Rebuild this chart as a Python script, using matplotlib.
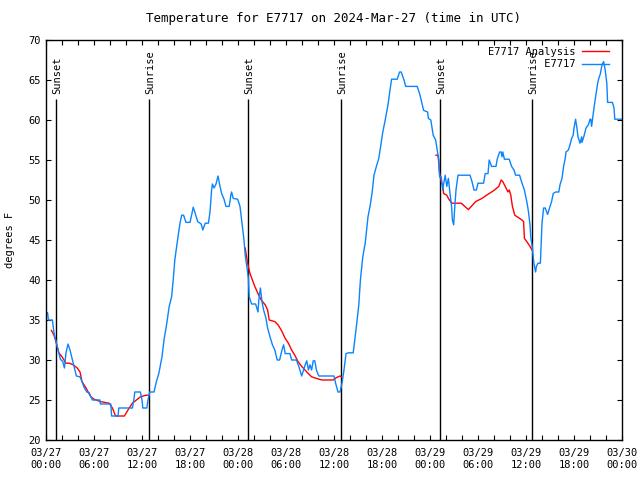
import matplotlib
matplotlib.use('Agg')
import matplotlib.pyplot as plt
from matplotlib.ticker import MultipleLocator

plt.rcParams['font.family'] = 'DejaVu Sans Mono'
plt.rcParams['font.size'] = 7.5

title = 'Temperature for E7717 on 2024-Mar-27 (time in UTC)'
label_y = 'degrees F'
label_obs = 'E7717'
label_ana = 'E7717 Analysis'

# hours since 03/27 00:00 UTC
tick_hours = [0, 6, 12, 18, 24, 30, 36, 42, 48, 54, 60, 66, 72]
tick_labels = ['03/27\n00:00', '03/27\n06:00', '03/27\n12:00', '03/27\n18:00',
               '03/28\n00:00', '03/28\n06:00', '03/28\n12:00', '03/28\n18:00',
               '03/29\n00:00', '03/29\n06:00', '03/29\n12:00', '03/29\n18:00',
               '03/30\n00:00']

sun_hours = [1.28, 12.88, 25.3, 36.9, 49.28, 60.8]
sun_labels = ['Sunset', 'Sunrise', 'Sunset', 'Sunrise', 'Sunset', 'Sunrise']

obs_h = [0.0, 0.2, 0.3, 0.8, 1.0, 1.3, 1.6, 1.8, 2.1, 2.3, 2.5, 2.75, 3.0, 3.3, 3.5, 3.8,
         4.25, 4.5, 4.75, 5.1, 5.4, 5.8, 6.75, 6.8, 8.1, 8.2, 9.0, 9.1, 10.8, 11.0, 11.1,
         11.8, 12.0, 12.1, 12.6, 12.75, 12.96, 13.5, 13.8, 14.1, 14.5, 14.75, 15.1, 15.4,
         15.7, 15.9, 16.1, 16.3, 16.5, 16.75, 16.96, 17.2, 17.5, 18.0, 18.2, 18.4, 18.6,
         18.96, 19.4, 19.6, 19.9, 20.3, 20.5, 20.7, 20.8, 21.0, 21.25, 21.5, 21.75, 21.96,
         22.25, 22.5, 22.9, 23.1, 23.2, 23.4, 23.96, 24.25, 24.5, 24.75, 24.9, 25.1, 25.3,
         25.4, 25.7, 26.2, 26.5, 26.6, 26.8, 27.0, 27.2, 27.5, 27.7, 28.0, 28.3, 28.6,
         28.9, 29.2, 29.5, 29.7, 29.9, 30.5, 30.7, 31.3, 31.6, 31.96, 32.2, 32.4, 32.6,
         32.8, 33.0, 33.2, 33.4, 33.6, 33.8, 34.1, 36.0, 36.2, 36.5, 36.75, 37.0, 37.25,
         37.5, 37.8, 38.4, 38.6, 38.8, 39.1, 39.3, 39.6, 39.9, 40.25, 40.5, 40.75, 41.0,
         41.3, 41.6, 41.8, 42.1, 42.4, 42.75, 43.0, 43.2, 43.9, 44.2, 44.4, 44.75, 44.96,
         46.4, 46.7, 46.9, 47.2, 47.7, 47.8, 48.1, 48.4, 48.7, 48.9, 49.1, 49.2, 49.4,
         49.6, 49.7, 49.9, 50.1, 50.3, 50.5, 50.7, 50.8, 50.96, 51.1, 51.25, 51.5, 53.0,
         53.25, 53.5, 53.8, 54.0, 54.7, 54.9, 55.25, 55.4, 55.7, 56.25, 56.4, 56.7, 56.9,
         57.0, 57.1, 57.3, 57.9, 58.2, 58.5, 58.7, 59.2, 59.5, 59.8, 60.1, 60.3, 60.5,
         60.6, 60.8, 60.9, 61.0, 61.2, 61.3, 61.5, 61.8, 61.9, 62.0, 62.2, 62.4, 62.7,
         63.0, 63.2, 63.4, 63.7, 64.1, 64.25, 64.5, 64.7, 64.9, 65.0, 65.3, 65.5, 65.7,
         65.9, 66.0, 66.2, 66.4, 66.5, 66.75, 66.96, 67.0, 67.25, 67.5, 67.8, 68.0, 68.1,
         68.2, 68.5, 68.7, 68.96, 69.1, 69.3, 69.5, 69.7, 69.9, 70.1, 70.2, 70.8, 71.0,
         71.1, 71.9]
obs_t = [36.0, 35.9, 35.0, 35.0, 33.4, 32.1, 30.9, 30.1, 29.8, 29.0, 30.9, 32.0, 31.25,
         30.0, 29.2, 28.0, 27.9, 27.3, 26.6, 26.0, 25.9, 25.0, 25.0, 24.5, 24.5, 23.0, 23.0,
         24.0, 24.0, 25.2, 26.0, 26.0, 25.0, 24.0, 24.0, 25.0, 26.0, 26.0, 27.3, 28.3, 30.4,
         32.5, 34.6, 36.7, 37.9, 40.0, 42.5, 44.0, 45.4, 47.1, 48.1, 48.1, 47.2, 47.2, 48.1,
         49.1, 48.5, 47.3, 47.0, 46.25, 47.1, 47.1, 48.5, 51.25, 52.0, 51.5, 52.0, 53.0,
         51.7, 50.8, 50.1, 49.2, 49.2, 50.6, 51.0, 50.2, 50.1, 49.2, 47.1, 45.0, 43.1, 41.7,
         40.2, 37.9, 37.0, 37.0, 36.0, 37.5, 39.0, 37.3, 36.25, 35.2, 34.0, 32.9, 31.9,
         31.25, 30.0, 30.0, 31.25, 31.9, 30.8, 30.8, 30.0, 30.0, 29.2, 28.0, 28.75, 29.4,
         29.9, 28.75, 29.4, 28.75, 29.9, 29.9, 28.75, 28.0, 28.0, 27.1, 26.0, 26.0, 27.1,
         28.75, 30.8, 30.9, 30.9, 32.5, 34.2, 36.9, 40.0, 42.9, 44.6, 47.9, 49.2, 50.8, 53.1,
         54.2, 55.2, 56.5, 58.5, 60.0, 61.9, 63.75, 65.1, 65.1, 66.0, 66.0, 65.0, 64.2, 64.2,
         63.3, 62.5, 61.2, 61.0, 60.2, 60.0, 58.1, 57.5, 56.25, 55.0, 52.9, 52.9, 51.25,
         52.0, 53.1, 51.7, 52.7, 50.8, 49.2, 47.5, 46.9, 49.2, 51.25, 53.1, 53.1, 52.3, 51.25,
         51.25, 52.1, 52.1, 53.3, 53.3, 55.0, 54.2, 54.2, 55.1, 56.0, 56.0, 55.4, 56.0, 55.1,
         55.1, 54.2, 53.75, 53.1, 53.1, 52.1, 51.25, 49.8, 48.6, 46.9, 45.3, 44.0, 42.9,
         42.0, 41.0, 41.7, 42.1, 42.1, 44.6, 47.1, 49.0, 49.0, 48.2, 49.2, 49.8, 50.8, 51.0,
         51.0, 51.9, 52.7, 54.2, 55.2, 56.0, 56.25, 56.9, 57.7, 58.1, 59.0, 60.1, 58.75,
         57.9, 57.1, 57.9, 57.2, 58.0, 59.0, 59.4, 60.1, 60.1, 59.2, 61.5, 62.9, 64.6, 65.2,
         65.8, 66.9, 67.3, 66.25, 64.6, 62.2, 62.2, 61.5, 60.1, 60.1]

# analysis, three night-time pieces
ana1_h = [0.67, 1.0, 1.3, 1.6, 2.0, 2.5, 2.9, 3.4, 3.9, 4.25, 4.5, 5.0, 5.6, 6.0, 6.8,
          7.9, 8.3, 8.7, 9.8, 10.4, 10.8, 11.8, 12.5, 12.9]
ana1_t = [33.7, 33.1, 32.1, 30.9, 30.4, 29.6, 29.6, 29.4, 29.0, 28.5, 27.3, 26.5, 25.4,
          25.1, 24.8, 24.6, 24.0, 23.0, 23.0, 24.0, 24.6, 25.4, 25.6, 25.6]
ana2_h = [24.9, 25.2, 25.5, 25.8, 26.1, 26.5, 26.9, 27.4, 27.7, 27.9, 28.6, 29.0, 29.4,
          29.9, 30.3, 30.7, 31.1, 31.5, 31.96, 32.6, 33.2, 33.8, 34.5, 35.9, 36.3, 36.75,
          36.96]
ana2_t = [44.0, 42.1, 40.8, 40.0, 39.2, 38.3, 37.5, 36.9, 36.25, 35.0, 34.8, 34.4, 33.75,
          32.7, 32.1, 31.25, 30.6, 29.8, 29.2, 28.5, 27.9, 27.7, 27.5, 27.5, 27.8, 28.0,
          27.9]
ana3_h = [48.75, 49.0, 49.1, 49.2, 49.4, 49.6, 49.7, 50.1, 50.3, 50.7, 51.9, 52.8, 53.7,
          54.5, 55.3, 56.0, 56.6, 56.9, 57.1, 57.4, 57.75, 57.9, 58.1, 58.3, 58.6, 58.9,
          59.5, 59.7, 59.8, 60.1, 60.5, 60.75]
ana3_t = [55.6, 55.6, 54.6, 53.3, 52.3, 51.7, 50.8, 50.6, 50.2, 49.6, 49.6, 48.8, 49.8,
          50.2, 50.75, 51.2, 51.7, 52.5, 52.3, 51.7, 51.0, 51.25, 50.6, 49.2, 48.1, 47.9,
          47.5, 47.3, 45.2, 44.8, 44.2, 43.75]

red = '#ff0000'
blue = '#0a84ff'

fig = plt.figure(figsize=(6.4, 4.8), dpi=100)
ax = fig.add_axes([46/640, 40/480, 576/640, 400/480])

for h, lab in zip(sun_hours, sun_labels):
    ax.vlines(h, 20, 62.6, color='black', linewidth=1.0)
    ax.text(h + 0.1, 63.3, lab, rotation=90, ha='center', va='bottom')

ax.plot(ana1_h, ana1_t, color=red, linewidth=1.0, label=label_ana)
ax.plot(ana2_h, ana2_t, color=red, linewidth=1.0)
ax.plot(ana3_h, ana3_t, color=red, linewidth=1.0)
ax.plot(obs_h, obs_t, color=blue, linewidth=1.0, label=' ' * 9 + label_obs)

ax.set_xlim(0, 72)
ax.set_ylim(20, 70)
ax.set_xticks(tick_hours)
ax.set_xticklabels(tick_labels)
ax.xaxis.set_minor_locator(MultipleLocator(2))
ax.yaxis.set_major_locator(MultipleLocator(5))
ax.tick_params(which='both', direction='in', top=True, right=True, length=3.6, width=0.8)
ax.tick_params(axis='x', pad=6)
for s in ax.spines.values():
    s.set_linewidth(1.0)

ax.set_title(title, pad=13)
fig.text(10/640, 0.5, label_y, rotation=90, ha='center', va='center')

ax.legend(loc='upper right', bbox_to_anchor=(0.988, 0.999), frameon=False,
          markerfirst=False, handlelength=2.6, borderaxespad=0.2, labelspacing=0.25,
          handletextpad=0.6)

fig.savefig('out.png', dpi=100)
